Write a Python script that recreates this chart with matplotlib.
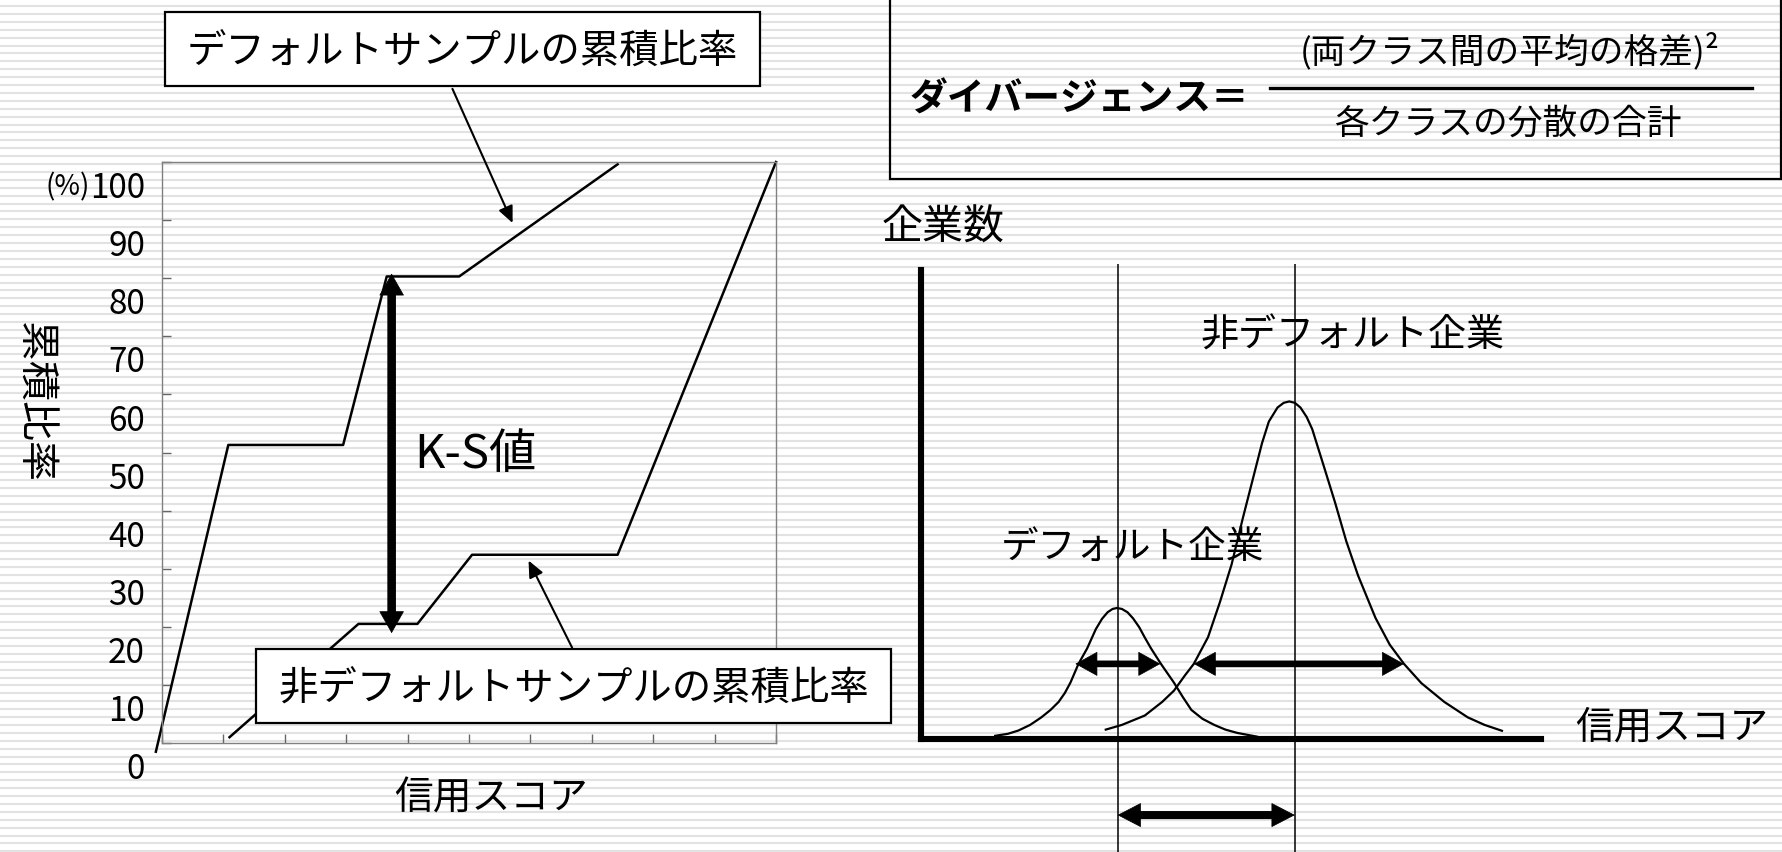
import numpy as np
import matplotlib
matplotlib.use("Agg")
import matplotlib.pyplot as plt
import matplotlib.transforms as mtransforms
from matplotlib.patches import Rectangle

plt.rcParams["font.family"] = ["Noto Sans CJK JP", "DejaVu Sans"]

W, H, DPI = 1783, 852, 100

# left panel: cumulative ratio by credit score (score 0-10, percent 0-100)
cum_ticks = list(range(0, 101, 10))
score_ticks = list(range(0, 11))
default_score = [-0.1, 1.08, 2.95, 3.66, 4.84, 7.42]
default_cum = [-1.5, 51.3, 51.3, 80.3, 80.3, 99.6]
nondefault_score = [1.10, 3.20, 4.16, 5.05, 7.42, 10.0]
nondefault_cum = [1.0, 20.5, 20.5, 32.4, 32.4, 100.0]
ks_score = 3.74
ks_range = (18.9, 80.8)

# right panel: number of companies by score (schematic units 0-100)
default_dist_x = [11.97, 14.0, 15.7, 17.6, 19.4, 20.9, 22.2, 23.2, 24.1, 25.4,
                  26.8, 28.2, 29.2, 30.1, 30.9, 31.6, 32.4, 33.3, 34.2, 35.2,
                  36.1, 37.1, 38.7, 40.8, 42.2, 43.6, 45.4, 47.3, 49.1, 51.0, 54.2]
default_dist_y = [0.68, 1.1, 1.8, 3.0, 4.6, 6.2, 7.9, 9.8, 12.0, 16.0,
                  19.3, 23.4, 25.6, 27.0, 27.7, 27.9, 27.7, 27.0, 25.7, 23.8,
                  21.6, 19.3, 16.0, 12.0, 9.0, 6.2, 4.3, 3.0, 2.0, 1.3, 0.5]
nondefault_dist_x = [29.8, 32.4, 36.1, 38.9, 40.8, 42.6, 44.0, 46.3, 48.2, 50.1,
                     51.9, 53.8, 55.0, 56.1, 57.5, 58.5, 59.4, 60.3, 61.2, 62.2,
                     63.1, 64.9, 66.8, 68.6, 70.5, 73.3, 75.6, 77.9, 80.7, 84.4,
                     88.2, 90.9, 93.7]
nondefault_dist_y = [2.0, 3.0, 5.0, 7.9, 10.3, 13.6, 16.0, 21.7, 29.1, 37.2,
                     47.0, 56.8, 63.0, 67.6, 70.6, 71.6, 71.9, 71.6, 70.6, 68.6,
                     66.0, 58.4, 50.3, 42.1, 34.8, 25.8, 20.1, 16.0, 11.9, 7.9,
                     4.6, 3.0, 1.75]
default_mean = 31.7
nondefault_mean = 60.3
spread_level = 16.0
default_spread = (24.9, 38.6)
nondefault_spread = (44.0, 77.9)
mean_gap_level = -16.2


def px_axes(fig, x0, y0, x1, y1):
    return fig.add_axes([x0 / W, 1 - y1 / H, (x1 - x0) / W, (y1 - y0) / H])


def double_arrow(ax, p0, p1, shaft_lw, head_len, head_hw):
    # thick shaft first, then a filled head at each end
    ax.annotate("", xy=p1, xytext=p0, annotation_clip=False,
                arrowprops=dict(arrowstyle="-", lw=shaft_lw, color="black",
                                shrinkA=head_len * 0.7, shrinkB=head_len * 0.7))
    ax.annotate("", xy=p1, xytext=p0, annotation_clip=False,
                arrowprops=dict(arrowstyle=f"<|-|>,head_length={head_len / 10},"
                                f"head_width={head_hw / 10}",
                                mutation_scale=10, lw=0.5, color="black",
                                shrinkA=0, shrinkB=0))


def pointer(ax, tail, tip):
    ax.annotate("", xy=tip, xytext=tail, annotation_clip=False,
                arrowprops=dict(arrowstyle="-|>,head_length=1.0,head_width=0.45",
                                mutation_scale=10, lw=1.5, color="black",
                                shrinkA=0, shrinkB=0))


fig = plt.figure(figsize=(W / DPI, H / DPI), dpi=DPI)
fig.patch.set_facecolor("white")

# striped slide background
bg = fig.add_axes([0, 0, 1, 1])
bg.set_zorder(-5)
bg.set_xlim(0, W)
bg.set_ylim(H, 0)
bg.axis("off")
for yy in np.arange(6, H, 7.9):
    bg.axhline(yy, color="#e2e2e2", lw=1.5)

# ---- left: K-S chart
ax = px_axes(fig, 162, 162, 776, 743)
ax.set_facecolor("none")
ax.set_xlim(0, 10)
ax.set_ylim(0, 100)
for sp in ax.spines.values():
    sp.set_color("#808080")
    sp.set_linewidth(1.0)
ax.set_xticks(score_ticks)
ax.set_yticks(cum_ticks)
ax.tick_params(direction="in", length=6.5, width=1.0, color="#666666",
               labelleft=False, labelbottom=False)

ax.plot(default_score, default_cum, color="black", lw=1.8, clip_on=False)
ax.plot(nondefault_score, nondefault_cum, color="black", lw=1.8, clip_on=False)

# y tick labels sit about a quarter step below their ticks
lab_size = 24
lab_tr = mtransforms.offset_copy(ax.transData, fig=fig, x=-17,
                                 y=-(24 + 0.365 * lab_size / 0.72), units="dots")
t100 = None
for v in cum_ticks:
    t = ax.text(0, v, str(v), transform=lab_tr, fontsize=lab_size,
                ha="right", va="baseline")
    if v == 100:
        t100 = t
ax.annotate("(%)", xy=(0, 0.1), xycoords=t100, fontsize=20,
            ha="right", va="bottom")

double_arrow(ax, (ks_score, ks_range[0]), (ks_score, ks_range[1]),
             shaft_lw=6.2, head_len=15, head_hw=8.5)
ax.text(5.10, 47.4, "K-S値", fontsize=34, ha="center", va="baseline")

pointer(ax, (4.73, 112.6), (5.71, 89.5))
pointer(ax, (6.68, 16.4), (5.97, 31.4))

# ---- right: distributions
ax2 = px_axes(fig, 921, 269.5, 1541, 739)
ax2.set_facecolor("none")
ax2.set_xlim(0, 100)
ax2.set_ylim(0, 100)
ax2.set_xticks([])
ax2.set_yticks([])
ax2.spines["top"].set_visible(False)
ax2.spines["right"].set_visible(False)
for side in ("left", "bottom"):
    ax2.spines[side].set_linewidth(4.4)
    ax2.spines[side].set_color("black")
    ax2.spines[side].set_capstyle("projecting")

ax2.vlines([default_mean, nondefault_mean], -26, 101.2, color="black",
           lw=1.1, clip_on=False)
ax2.plot(default_dist_x, default_dist_y, color="black", lw=1.6)
ax2.plot(nondefault_dist_x, nondefault_dist_y, color="black", lw=1.6)

double_arrow(ax2, (default_spread[0], spread_level), (default_spread[1], spread_level),
             shaft_lw=4.8, head_len=15, head_hw=8.3)
double_arrow(ax2, (nondefault_spread[0], spread_level), (nondefault_spread[1], spread_level),
             shaft_lw=4.8, head_len=15, head_hw=8.3)
double_arrow(ax2, (default_mean, mean_gap_level), (nondefault_mean, mean_gap_level),
             shaft_lw=5.8, head_len=16, head_hw=8.3)

# ---- overlay: label boxes, formula and free text (pixel coordinates)
ov = fig.add_axes([0, 0, 1, 1])
ov.set_xlim(0, W)
ov.set_ylim(H, 0)
ov.axis("off")
ov.set_facecolor("none")


def px_text(s, x, y, size, ha="center", **kw):
    ov.text(x, y + 0.37 * size / 0.72, s, fontsize=size, ha=ha,
            va="baseline", **kw)


ov.add_patch(Rectangle((165, 12), 595, 74, fc="white", ec="black", lw=1.6))
px_text("デフォルトサンプルの累積比率", 462.5, 49, 28.4)
ov.add_patch(Rectangle((256, 649), 635.5, 73.7, fc="white", ec="black", lw=1.6))
px_text("非デフォルトサンプルの累積比率", 574, 686, 28.4)

px_text("信用スコア", 491.5, 795, 27.9)
ov.text(38 - 0.37 * 28.8 / 0.72, 402, "累積比率", fontsize=28.8, rotation=270,
        rotation_mode="anchor", ha="center", va="baseline")

ov.add_patch(Rectangle((890, -10), 891, 188.5, fc="none", ec="black", lw=1.6,
                       clip_on=False))
px_text("ダイバージェンス＝", 1080, 97, 27.2, fontweight="bold")
ov.plot([1270, 1752], [87.6, 87.6], color="black", lw=2.4)
px_text("(両クラス間の平均の格差)²", 1510, 49, 25)
px_text("各クラスの分散の合計", 1508, 121, 25)

px_text("企業数", 943, 224, 29.5)
px_text("非デフォルト企業", 1352, 332, 27.4)
px_text("デフォルト企業", 1132.5, 543.5, 27.1)
px_text("信用スコア", 1672, 724, 27.8)

fig.savefig("out.png", dpi=DPI)
